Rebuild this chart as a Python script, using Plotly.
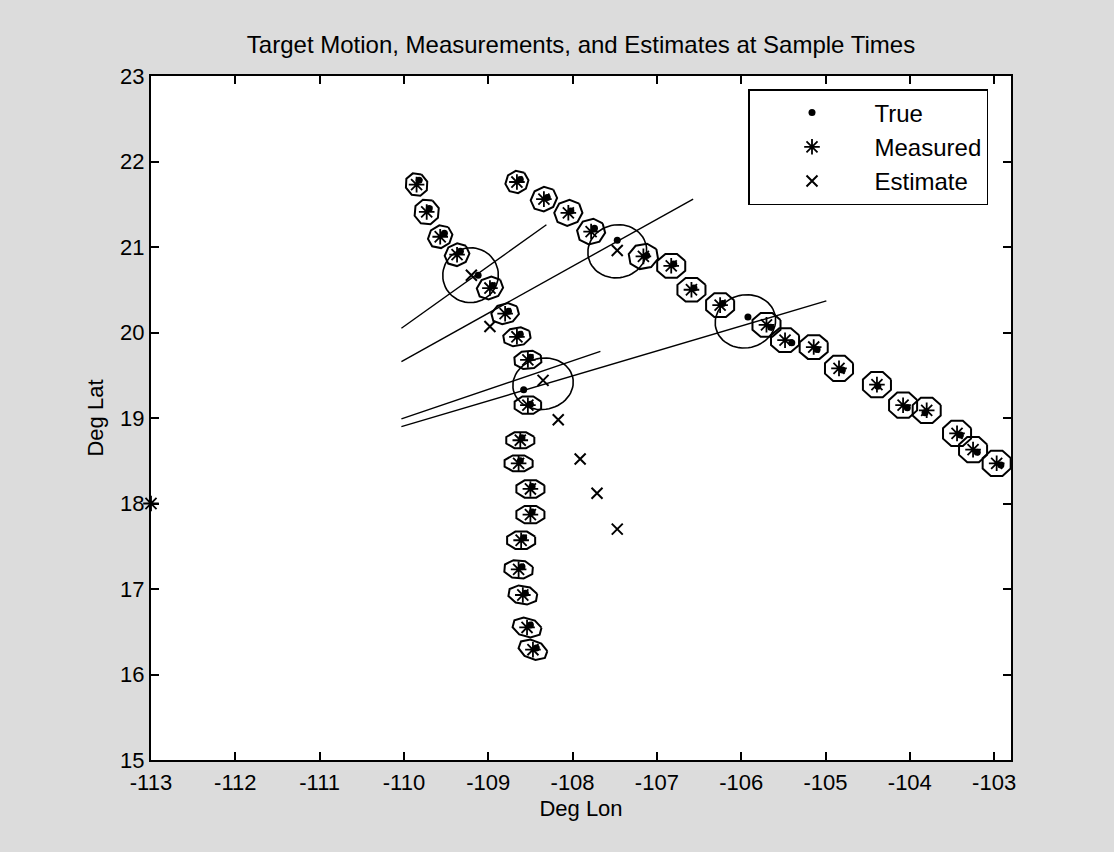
import numpy as np
import plotly.graph_objects as go

# ---------------- data ----------------
# Measured positions (centres of the small error ellipses)
meas_lon = [-109.85, -109.73, -109.57, -109.37, -108.98, -108.80, -108.66, -108.53,
            -108.53, -108.62, -108.64, -108.50, -108.50, -108.61, -108.64, -108.59,
            -108.54, -108.47,
            -108.66, -108.34, -108.05, -107.78, -107.16, -106.83, -106.59, -106.25,
            -105.70, -105.48, -105.14, -104.84, -104.39, -104.08, -103.80, -103.44,
            -103.25, -102.97, -113.00]
meas_lat = [21.73, 21.41, 21.12, 20.91, 20.52, 20.22, 19.95, 19.68,
            19.15, 18.74, 18.47, 18.17, 17.87, 17.57, 17.23, 16.93,
            16.55, 16.29,
            21.76, 21.56, 21.40, 21.18, 20.89, 20.78, 20.50, 20.32,
            20.09, 19.91, 19.83, 19.58, 19.39, 19.15, 19.09, 18.82,
            18.63, 18.47, 18.00]

# True target positions
true_lon = [-109.82, -109.70, -109.52, -109.33, -109.12, -108.95, -108.76, -108.62, -108.50,
            -108.58, -108.50, -108.60, -108.62, -108.48, -108.48, -108.58, -108.60, -108.56,
            -108.50, -108.43,
            -108.62, -108.30, -108.02, -107.74, -107.47, -107.12, -106.80, -106.56, -106.22,
            -105.92, -105.65, -105.40, -105.10, -104.80, -104.38, -104.03, -103.82, -103.40,
            -103.20, -102.92]
true_lat = [21.78, 21.45, 21.16, 20.95, 20.67, 20.55, 20.25, 19.98, 19.71,
            19.33, 19.16, 18.77, 18.50, 18.20, 17.90, 17.60, 17.26, 16.95,
            16.58, 16.31,
            21.79, 21.58, 21.42, 21.22, 21.08, 20.90, 20.80, 20.52, 20.34,
            20.18, 20.06, 19.88, 19.80, 19.56, 19.37, 19.12, 19.06, 18.80,
            18.60, 18.45]

# Estimates
est_lon = [-109.20, -108.98, -108.35, -108.17, -107.91, -107.71, -107.47, -107.47]
est_lat = [20.67, 20.07, 19.44, 18.98, 18.52, 18.12, 17.70, 20.96]

# Large estimate-covariance ellipses: centre, semi-axes (deg), tilt (deg)
big_lon = [-109.21, -107.47, -105.95, -108.35]
big_lat = [20.67, 20.95, 20.13, 19.40]
big_rx = [0.33, 0.35, 0.36, 0.36]
big_ry = [0.32, 0.31, 0.31, 0.30]
big_tilt = [10, 10, 10, 10]

# Small measurement ellipses semi-axes per measured point (first 36 points)
small_rx = [0.13, 0.15, 0.15, 0.15, 0.16, 0.17, 0.17, 0.17,
            0.17, 0.18, 0.18, 0.18, 0.18, 0.18, 0.18, 0.18,
            0.18, 0.18,
            0.14, 0.16, 0.17, 0.17, 0.18, 0.18, 0.18, 0.18,
            0.18, 0.18, 0.18, 0.18, 0.18, 0.18, 0.18, 0.18,
            0.18, 0.18]
small_ry = [0.14, 0.15, 0.13, 0.13, 0.13, 0.12, 0.11, 0.11,
            0.11, 0.10, 0.10, 0.11, 0.11, 0.11, 0.11, 0.11,
            0.11, 0.11,
            0.13, 0.14, 0.15, 0.15, 0.15, 0.15, 0.15, 0.15,
            0.15, 0.15, 0.15, 0.16, 0.16, 0.16, 0.16, 0.16,
            0.16, 0.16]
small_tilt = [40, 40, 30, 25, 20, 15, 10, 5,
              0, 0, 0, 0, 0, 0, -5, -10,
              -15, -20,
              30, 25, 20, 15, 10, 0, 0, 0,
              0, 0, 0, 0, 0, 0, 0, 0,
              0, 0]

# Bearing lines (start / end)
line_lon0 = [-110.03, -110.03, -110.03, -110.03]
line_lat0 = [20.05, 19.66, 18.99, 18.90]
line_lon1 = [-108.31, -106.57, -107.67, -104.99]
line_lat1 = [21.26, 21.56, 19.78, 20.37]

x_ticks = [-113, -112, -111, -110, -109, -108, -107, -106, -105, -104, -103]
x_ticklabels = ["-113", "-112", "-111", "-110", "-109", "-108", "-107", "-106",
                "-105", "-104", "-103"]
y_ticks = [15, 16, 17, 18, 19, 20, 21, 22, 23]
y_ticklabels = ["15", "16", "17", "18", "19", "20", "21", "22", "23"]

# ---------------- helpers ----------------
def ellipse(cx, cy, rx, ry, tilt_deg, n):
    t = np.linspace(0, 2 * np.pi, n + 1) + np.pi / n
    a = np.deg2rad(tilt_deg)
    ex = rx * np.cos(t)
    ey = ry * np.sin(t)
    xs = cx + ex * np.cos(a) - ey * np.sin(a)
    ys = cy + ex * np.sin(a) + ey * np.cos(a)
    return list(xs), list(ys)

FONT = "Liberation Sans"
fig = go.Figure()

# small octagonal measurement ellipses
sx, sy = [], []
for i in range(len(small_rx)):
    xs, ys = ellipse(meas_lon[i], meas_lat[i], small_rx[i], small_ry[i], small_tilt[i], 8)
    sx += xs + [None]
    sy += ys + [None]
fig.add_trace(go.Scatter(x=sx, y=sy, mode="lines", line=dict(color="black", width=2),
                         showlegend=False, hoverinfo="skip"))

# large ellipses
bx, by = [], []
for i in range(len(big_lon)):
    xs, ys = ellipse(big_lon[i], big_lat[i], big_rx[i], big_ry[i], big_tilt[i], 60)
    bx += xs + [None]
    by += ys + [None]
fig.add_trace(go.Scatter(x=bx, y=by, mode="lines", line=dict(color="black", width=1.6),
                         showlegend=False, hoverinfo="skip"))

# bearing lines
lx, ly = [], []
for i in range(len(line_lon0)):
    lx += [line_lon0[i], line_lon1[i], None]
    ly += [line_lat0[i], line_lat1[i], None]
fig.add_trace(go.Scatter(x=lx, y=ly, mode="lines", line=dict(color="black", width=1.4),
                         showlegend=False, hoverinfo="skip"))

fig.add_trace(go.Scatter(x=true_lon, y=true_lat, mode="markers", name="True",
                         marker=dict(symbol="circle", size=7, color="black")))
fig.add_trace(go.Scatter(x=meas_lon, y=meas_lat, mode="markers", name="Measured",
                         cliponaxis=False,
                         marker=dict(symbol="asterisk-open", size=13, color="black",
                                     line=dict(color="black", width=1.8))))
fig.add_trace(go.Scatter(x=est_lon, y=est_lat, mode="markers", name="Estimate",
                         marker=dict(symbol="x-thin-open", size=11, color="black",
                                     line=dict(color="black", width=2))))

axis_common = dict(showgrid=False, zeroline=False, showline=True, linecolor="black",
                   linewidth=2, mirror="ticks", ticks="inside", ticklen=8,
                   tickwidth=1.5, tickcolor="black",
                   tickfont=dict(family=FONT, size=22, color="black"))

fig.update_layout(
    width=1114, height=852,
    margin=dict(l=151, r=103, t=76, b=92),
    paper_bgcolor="#dcdcdc", plot_bgcolor="white",
    font=dict(family=FONT, color="black"),
    title=dict(text="Target Motion, Measurements, and Estimates at Sample Times",
               x=(232 + 930) / 2 / 1114, xanchor="center", y=1 - 45 / 852, yanchor="middle",
               font=dict(family=FONT, size=24, color="black")),
    xaxis=dict(range=[-113, -102.8], tickvals=x_ticks, ticktext=x_ticklabels,
               ticklabelstandoff=2,
               title=dict(text="Deg Lon", font=dict(family=FONT, size=22), standoff=6),
               **axis_common),
    yaxis=dict(range=[15, 23], tickvals=y_ticks, ticktext=y_ticklabels,
               title=dict(text="Deg Lat", font=dict(family=FONT, size=22), standoff=10),
               **axis_common),
    legend=dict(x=(988 - 151) / 860, xanchor="right", y=(760 - 89) / 684, yanchor="top",
                bgcolor="white", bordercolor="black", borderwidth=1.5,
                font=dict(family=FONT, size=24, color="black"),
                itemwidth=115, tracegroupgap=0),
    showlegend=True,
)

fig.write_html("out.html", config={"displayModeBar": False},
               post_script="document.body.style.margin='0';")
